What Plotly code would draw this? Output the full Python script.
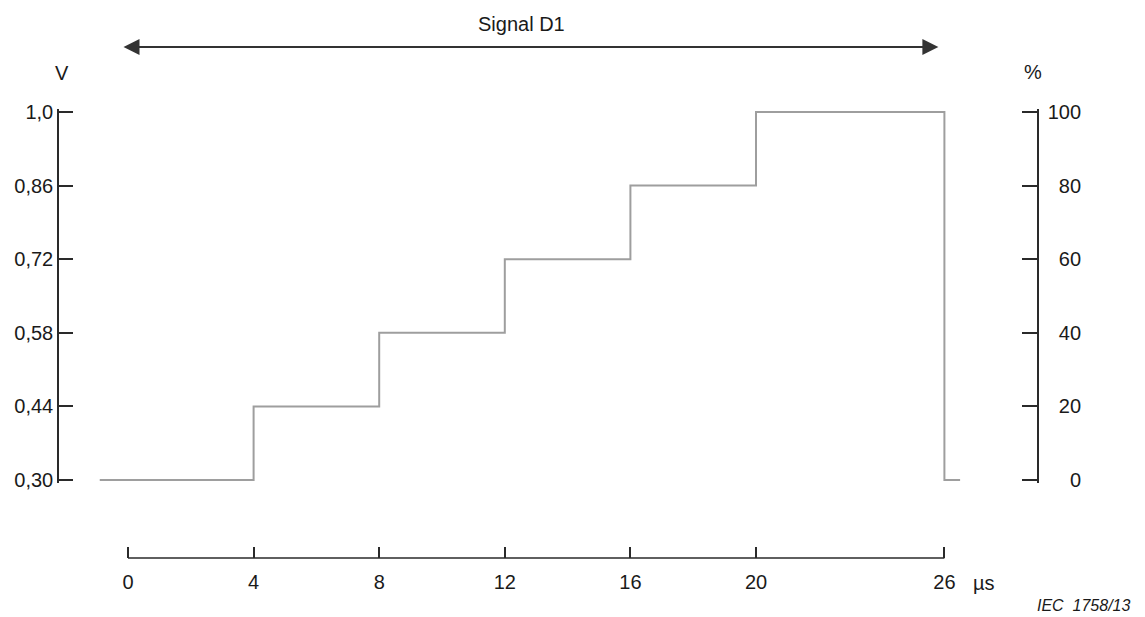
import plotly.graph_objects as go

# ---- data ----
time_points = [-0.9, 4, 8, 12, 16, 20, 26, 26.5]
voltage = [0.30, 0.44, 0.58, 0.72, 0.86, 1.0, 0.30, 0.30]
v_ticks = [0.30, 0.44, 0.58, 0.72, 0.86, 1.0]
v_labels = ["0,30", "0,44", "0,58", "0,72", "0,86", "1,0"]
pct_ticks = [0, 20, 40, 60, 80, 100]
pct_labels = ["0", "20", "40", "60", "80", "100"]
time_ticks = [0, 4, 8, 12, 16, 20, 26]
time_labels = ["0", "4", "8", "12", "16", "20", "26"]
signal_span = [0, 26]

W, H = 1145, 617
OFF = 8  # page body margin offset
def px(x):
    return (x - OFF) / W
def py(y):
    return 1 - (y - OFF) / H

FONT = "Liberation Sans, Arial, sans-serif"
AX = "#2a2a2a"
TXT = "#1a1a1a"

# pixel layout (screen pixels of the reference)
x_left, x_right = 59, 1037      # y-axis lines
t0_px, px_per_t = 128, 31.4     # time scale
y_top, y_bot = 112, 480         # 1.0 V and 0.30 V
pad_v = 0.005
px_per_v = (y_bot - y_top) / 0.70
dom_top = y_top - pad_v * px_per_v
dom_bot = y_bot + pad_v * px_per_v

x_range = [(x_left - t0_px) / px_per_t, (x_right - t0_px) / px_per_t]
v_range = [0.30 - pad_v, 1.0 + pad_v]
p_range = [(v - 0.30) / 0.70 * 100 for v in v_range]

fig = go.Figure()
fig.add_trace(go.Scatter(
    x=time_points, y=voltage, mode="lines", line_shape="hv",
    line=dict(color="#9e9e9e", width=2), hoverinfo="skip", showlegend=False,
))
# invisible trace for right axis
fig.add_trace(go.Scatter(
    x=[time_points[0]], y=[0], yaxis="y2", mode="lines",
    line=dict(width=0), showlegend=False, hoverinfo="skip",
))

nb = "\u00a0"
def pad_label(s, width=3):
    return nb * (2 * (width - len(s))) + s

fig.update_layout(
    template="none",
    width=W, height=H,
    margin=dict(l=0, r=0, t=0, b=0, pad=0, autoexpand=False),
    paper_bgcolor="white", plot_bgcolor="white",
    font=dict(family=FONT, size=20, color=TXT),
    xaxis=dict(
        domain=[px(x_left), px(x_right)], range=x_range,
        anchor="free", position=py(558), automargin=False,
        showgrid=False, zeroline=False, showline=False,
        ticks="inside", ticklen=11, tickwidth=1.5, tickcolor=AX,
        tickvals=time_ticks, ticktext=time_labels,
        ticklabelstandoff=10,
        tickfont=dict(size=20, color=TXT),
    ),
    yaxis=dict(
        domain=[py(dom_bot), py(dom_top)], range=v_range,
        anchor="x", side="left", automargin=False,
        showgrid=False, zeroline=False,
        showline=True, linecolor=AX, linewidth=1.5,
        ticks="inside", ticklen=14, tickwidth=1.5, tickcolor=AX,
        tickvals=v_ticks, ticktext=v_labels,
        ticklabelstandoff=0,
        tickfont=dict(size=20, color=TXT),
    ),
    yaxis2=dict(
        overlaying="y", anchor="x", side="right", range=p_range,
        automargin=False,
        showgrid=False, zeroline=False,
        showline=True, linecolor=AX, linewidth=1.5,
        ticks="inside", ticklen=15, tickwidth=1.5, tickcolor=AX,
        tickvals=pct_ticks, ticktext=[pad_label(s) for s in pct_labels],
        ticklabelstandoff=5,
        tickfont=dict(size=20, color=TXT),
    ),
)

# bottom time axis line, only spanning the signal
fig.add_shape(type="line", xref="x", yref="paper",
              x0=time_ticks[0], x1=time_ticks[-1], y0=py(558), y1=py(558),
              line=dict(color=AX, width=1.5))

# Signal D1 double arrow
fig.add_annotation(
    x=signal_span[1], y=py(47), xref="x", yref="paper",
    ax=signal_span[0], ay=0, axref="x", ayref="pixel",
    text="", showarrow=True, arrowside="end+start",
    arrowhead=2, arrowsize=1.6, arrowwidth=2, arrowcolor="#333333",
    standoff=0, startstandoff=0, xshift=-6,
)
fig.add_annotation(x=px(521), y=py(24), xref="paper", yref="paper",
                   text="Signal D1", showarrow=False,
                   font=dict(size=20, color=TXT), xanchor="center", yanchor="middle")
fig.add_annotation(x=px(62), y=py(73), xref="paper", yref="paper",
                   text="V", showarrow=False,
                   font=dict(size=20, color=TXT), xanchor="center", yanchor="middle")
fig.add_annotation(x=px(1033), y=py(72), xref="paper", yref="paper",
                   text="%", showarrow=False,
                   font=dict(size=20, color=TXT), xanchor="center", yanchor="middle")
fig.add_annotation(x=px(984), y=py(583), xref="paper", yref="paper",
                   text="\u00b5s", showarrow=False,
                   font=dict(size=20, color=TXT), xanchor="center", yanchor="middle")
fig.add_annotation(x=px(1133), y=py(605), xref="paper", yref="paper",
                   text="<i>IEC\u00a0\u00a01758/13</i>", showarrow=False,
                   font=dict(size=16, color=TXT), xanchor="right", yanchor="middle")

fig.write_html("out.html")
